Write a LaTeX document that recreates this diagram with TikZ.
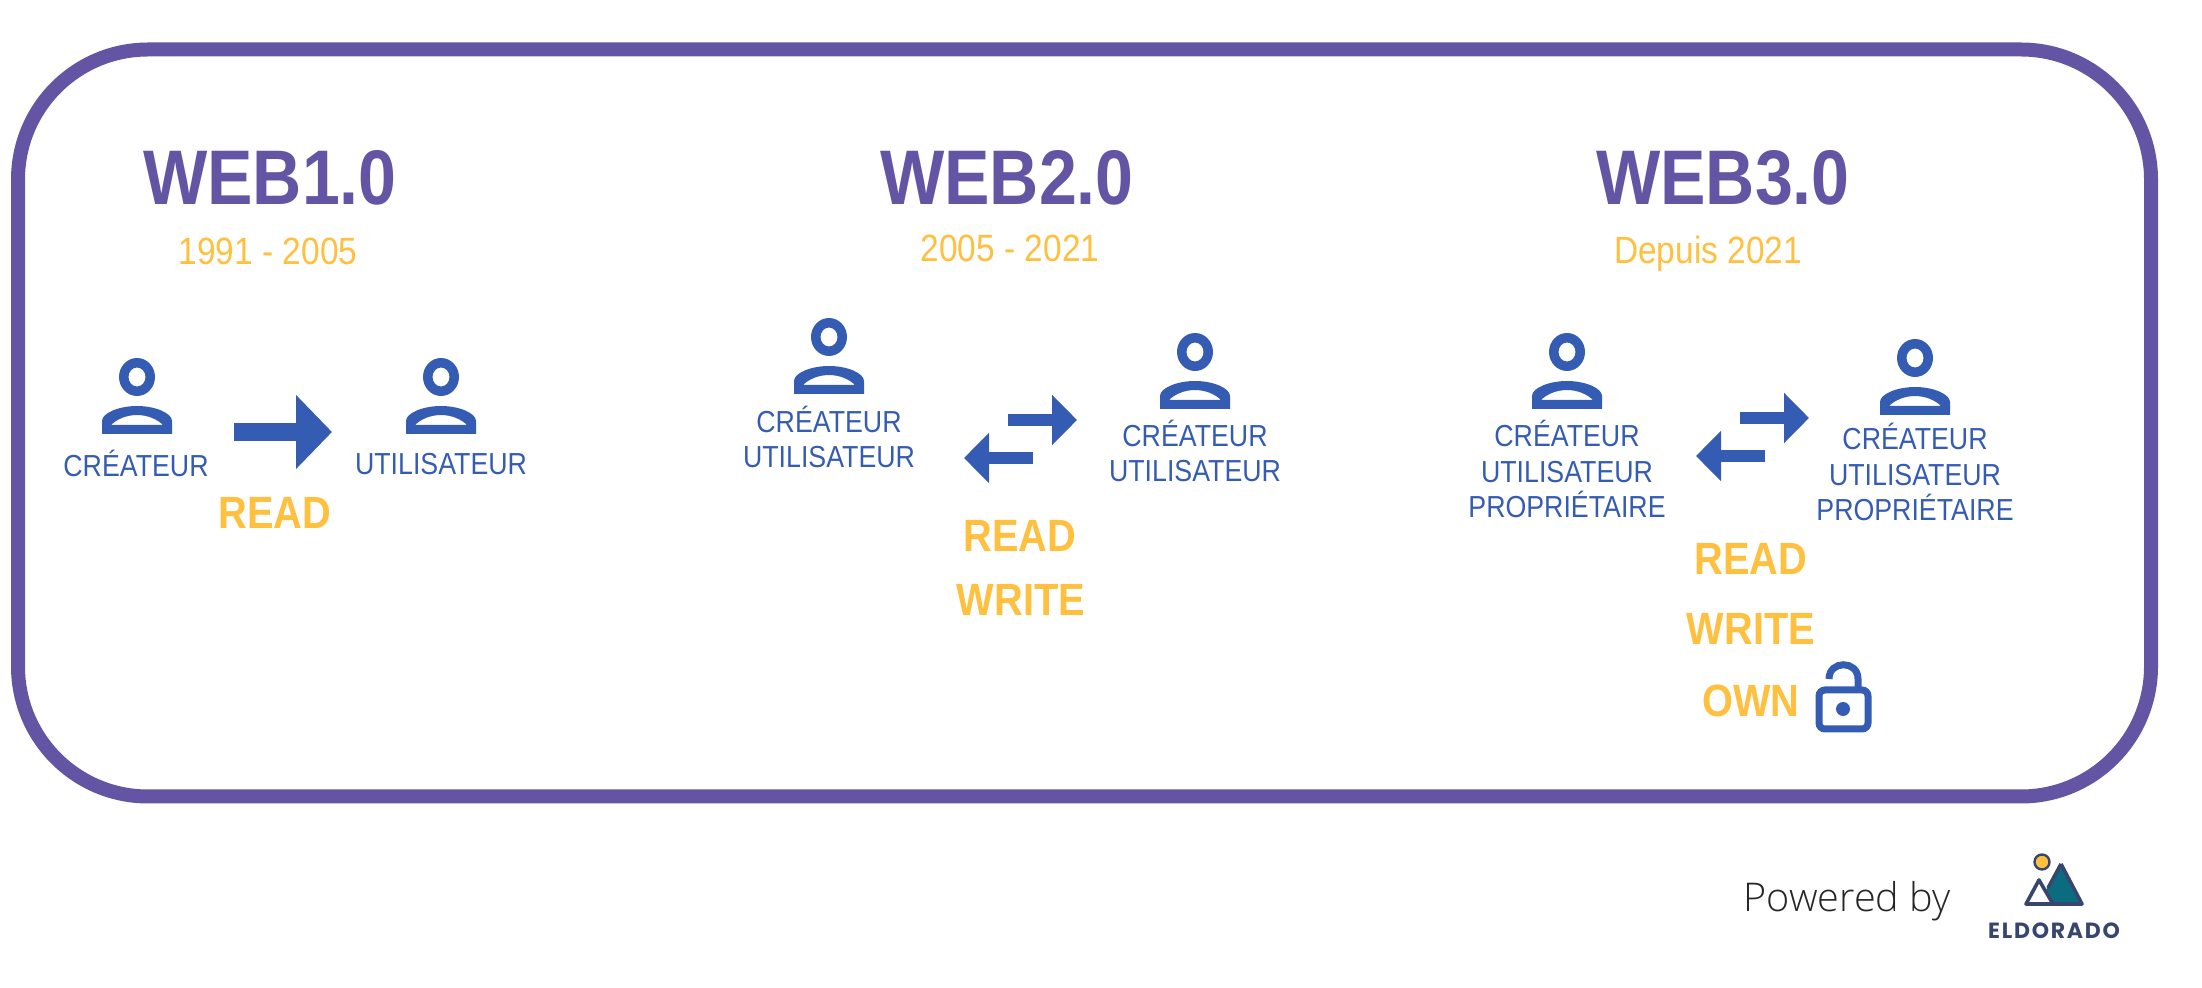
\documentclass[tikz,border=0pt]{standalone}
\usepackage{fontspec}
\setmainfont[FakeStretch=0.88]{Liberation Sans}
\newfontfamily\poweredfont{Open Sans Light}
\newfontfamily\logofont[LetterSpace=8]{Poppins}
\usetikzlibrary{arrows.meta}
\definecolor{webpurple}{HTML}{6355A4}
\definecolor{webblue}{HTML}{355CB3}
\definecolor{webyellow}{HTML}{FFBF3F}
\definecolor{logonavy}{HTML}{36466E}
\definecolor{logoteal}{HTML}{0B6B7F}
\tikzset{
	title/.style={text=webpurple, font=\fontsize{38.7}{42}\selectfont\bfseries},
	period/.style={text=webyellow, font=\fontsize{19}{22}\selectfont},
	role/.style={text=webblue, align=center, font=\fontsize{15.2}{17.7}\selectfont},
	right/.style={text=webyellow, font=\fontsize{22.6}{26}\selectfont\bfseries},
	bigarrow/.style={draw=webblue, line width=8.75pt, -{Triangle[length=18pt,width=36pt]}},
	smallarrow/.style={draw=webblue, line width=6pt, -{Triangle[length=12.5pt,width=24.5pt]}},
	person/.pic={
		\fill[webblue, even odd rule] (0,0) ellipse (18 and 19) (0,0) ellipse (8.5 and 9.5);
		\fill[webblue, even odd rule] (-35,57) -- (-35,44) .. controls (-35,36) and (-18,29) .. (0,29) .. controls (18,29) and (35,36) .. (35,44) -- (35,57) -- cycle
			(-26,48) .. controls (-20,42) and (-10,38) .. (0,38) .. controls (10,38) and (20,42) .. (26,48) -- cycle;
	}
}
\begin{document}
\begin{tikzpicture}[x=0.5pt, y=-0.5pt]
	\useasboundingbox (0, 0) rectangle (2202, 988);
	\node[draw=webpurple, line width=7pt, rounded corners=65pt, minimum width=1066.5pt, minimum height=373.5pt, inner sep=0pt] (frame) at (1084.5, 423) {};

	\node[title] (web1) at (270, 178) {WEB1.0};
	\node[title] (web2) at (1007, 178) {WEB2.0};
	\node[title] (web3) at (1723, 178) {WEB3.0};
	\node[period] (period1) at (268, 251) {1991 - 2005};
	\node[period] (period2) at (1010, 248) {2005 - 2021};
	\node[period] (period3) at (1708, 254) {Depuis 2021};

	\pic at (137, 377) {person};
	\pic at (441, 377) {person};
	\pic at (829, 337) {person};
	\pic at (1195, 352) {person};
	\pic at (1567, 352) {person};
	\pic at (1915, 358) {person};

	\node[role] (creator1) at (136, 463) {CRÉATEUR};
	\node[role] (user1) at (441, 464) {UTILISATEUR};
	\node[role] (creator2) at (829, 437) {CRÉATEUR\\UTILISATEUR};
	\node[role] (user2) at (1195, 451) {CRÉATEUR\\UTILISATEUR};
	\node[role] (creator3) at (1567, 469) {CRÉATEUR\\UTILISATEUR\\PROPRIÉTAIRE};
	\node[role] (user3) at (1915, 472) {CRÉATEUR\\UTILISATEUR\\PROPRIÉTAIRE};

	\coordinate (arrow1a) at (234, 432);
	\coordinate (arrow1b) at (332, 432);
	\coordinate (arrow2a) at (1008, 420);
	\coordinate (arrow2b) at (1077, 420);
	\coordinate (arrow2c) at (1033, 458);
	\coordinate (arrow2d) at (964, 458);
	\coordinate (arrow3a) at (1740, 418);
	\coordinate (arrow3b) at (1809, 418);
	\coordinate (arrow3c) at (1765, 456);
	\coordinate (arrow3d) at (1696, 456);

	\draw[bigarrow] (arrow1a) -- (arrow1b);
	\draw[smallarrow] (arrow2a) -- (arrow2b);
	\draw[smallarrow] (arrow2c) -- (arrow2d);
	\draw[smallarrow] (arrow3a) -- (arrow3b);
	\draw[smallarrow] (arrow3c) -- (arrow3d);

	\node[right] (read1) at (275, 513) {READ};
	\node[right] (read2) at (1020, 536) {READ};
	\node[right] (write2) at (1021, 600) {WRITE};
	\node[right] (read3) at (1751, 559) {READ};
	\node[right] (write3) at (1751, 629) {WRITE};
	\node[right] (own3) at (1751, 701) {OWN};

	% lock
	\draw[webblue, line width=3.5pt, rounded corners=3pt] (1819, 690) rectangle (1868, 729);
	\fill[webblue] (1843, 709) circle (7);
	\draw[webblue, line width=3.5pt] (1829, 679) .. controls (1829, 660) and (1858, 660) .. (1858, 679) -- (1858, 688);

	\node[font=\poweredfont\fontsize{19.8}{23}\selectfont, text=black!85] (powered) at (1847, 901) {Powered by};

	% logo
	\fill[logoteal] (2061, 864) -- (2082, 904) -- (2038, 904) -- cycle;
	\draw[logonavy, line width=1.8pt, line join=round] (2061, 864) -- (2082, 904) -- (2052, 904);
	\draw[logonavy, line width=1.8pt, line join=round] (2061, 864) -- (2048, 888);
	\draw[logonavy, line width=1.8pt, line join=round, fill=white] (2039, 880) -- (2053, 904) -- (2026, 904) -- cycle;
	\draw[logonavy, line width=1.2pt, fill=webyellow] (2042, 862) circle (7.5);
	\node[text=logonavy, font=\logofont\fontsize{11}{13}\selectfont\bfseries, inner sep=0pt] (eldorado) at (2054, 931) {ELDORADO};
\end{tikzpicture}
\end{document}
